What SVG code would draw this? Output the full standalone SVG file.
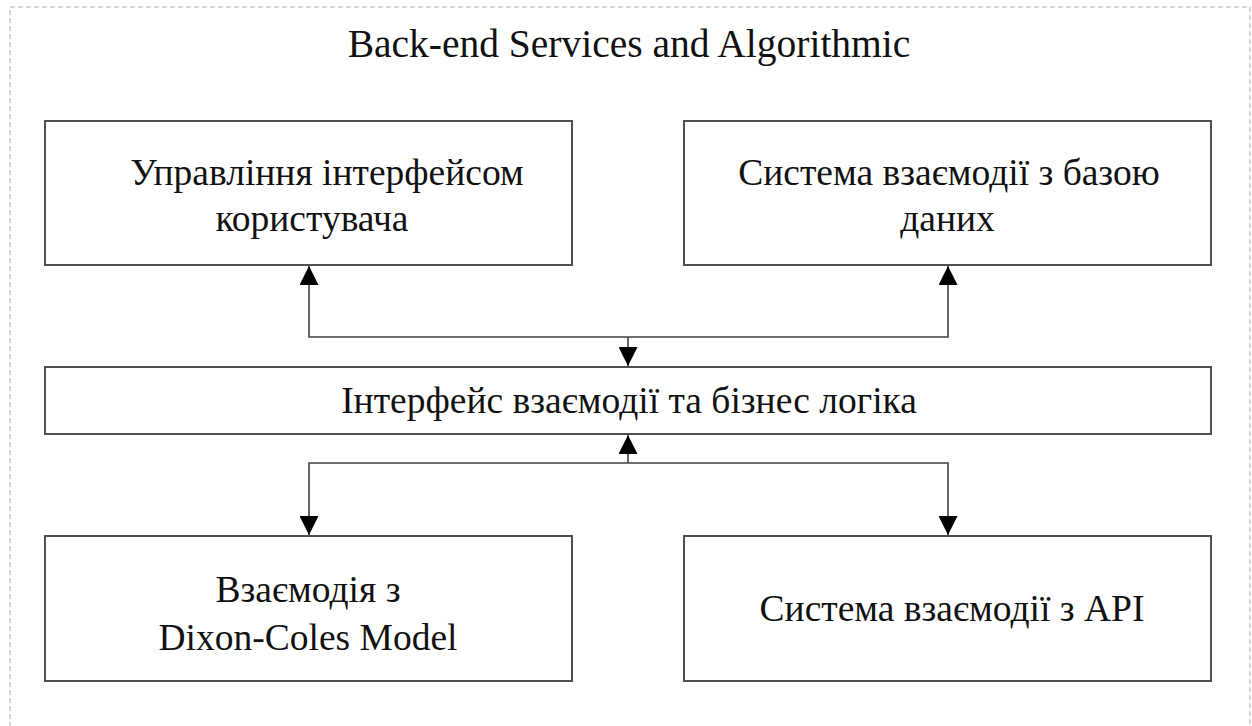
<svg xmlns="http://www.w3.org/2000/svg" width="1252" height="726" viewBox="0 0 1252 726">
  <defs>
    <style>
      .frame { fill: none; stroke: #c8c8c8; stroke-width: 1.5; stroke-dasharray: 5 3; }
      .box { fill: #ffffff; stroke: #505050; stroke-width: 2; }
      .conn { fill: none; stroke: #404040; stroke-width: 1.6; }
      .lbl { font-family: "Liberation Serif", "Times New Roman", serif; font-size: 37.5px; fill: #111111; text-anchor: middle; }
      .title { font-family: "Liberation Serif", "Times New Roman", serif; font-size: 39.5px; fill: #111111; text-anchor: middle; }
    </style>
    <marker id="arrow" viewBox="0 0 10 10" refX="10" refY="5" markerWidth="19" markerHeight="19" markerUnits="userSpaceOnUse" orient="auto">
      <path d="M0,0 L10,5 L0,10 Z" fill="#000000"/>
    </marker>
  </defs>
  <rect x="0" y="0" width="1252" height="726" fill="#ffffff"/>
  <rect class="frame" x="10" y="7" width="1240" height="740"/>
  <text class="title" x="629" y="57">Back-end Services and Algorithmic</text>

  <g id="connectors">
    <path class="conn" d="M628,337 L628,366" marker-end="url(#arrow)"/>
    <path class="conn" d="M628,337 L309,337 L309,266" marker-end="url(#arrow)"/>
    <path class="conn" d="M628,337 L948,337 L948,266" marker-end="url(#arrow)"/>
    <path class="conn" d="M628,463 L628,435" marker-end="url(#arrow)"/>
    <path class="conn" d="M628,463 L309,463 L309,535" marker-end="url(#arrow)"/>
    <path class="conn" d="M628,463 L948,463 L948,535" marker-end="url(#arrow)"/>
  </g>

  <g id="ui-management">
    <rect class="box" x="45" y="121" width="527" height="144"/>
    <text class="lbl" x="327" y="185">Управління інтерфейсом</text>
    <text class="lbl" x="312" y="231">користувача</text>
  </g>
  <g id="db-system">
    <rect class="box" x="684" y="121" width="527" height="144"/>
    <text class="lbl" x="949" y="185">Система взаємодії з базою</text>
    <text class="lbl" x="947.5" y="231">даних</text>
  </g>
  <g id="business-logic">
    <rect class="box" x="45" y="367" width="1166" height="67"/>
    <text class="lbl" x="629" y="413">Інтерфейс взаємодії та бізнес логіка</text>
  </g>
  <g id="dixon-coles">
    <rect class="box" x="45" y="536" width="527" height="145"/>
    <text class="lbl" x="308" y="602">Взаємодія з</text>
    <text class="lbl" x="308" y="650">Dixon-Coles Model</text>
  </g>
  <g id="api-system">
    <rect class="box" x="684" y="536" width="527" height="145"/>
    <text class="lbl" x="952" y="621">Система взаємодії з API</text>
  </g>
</svg>
